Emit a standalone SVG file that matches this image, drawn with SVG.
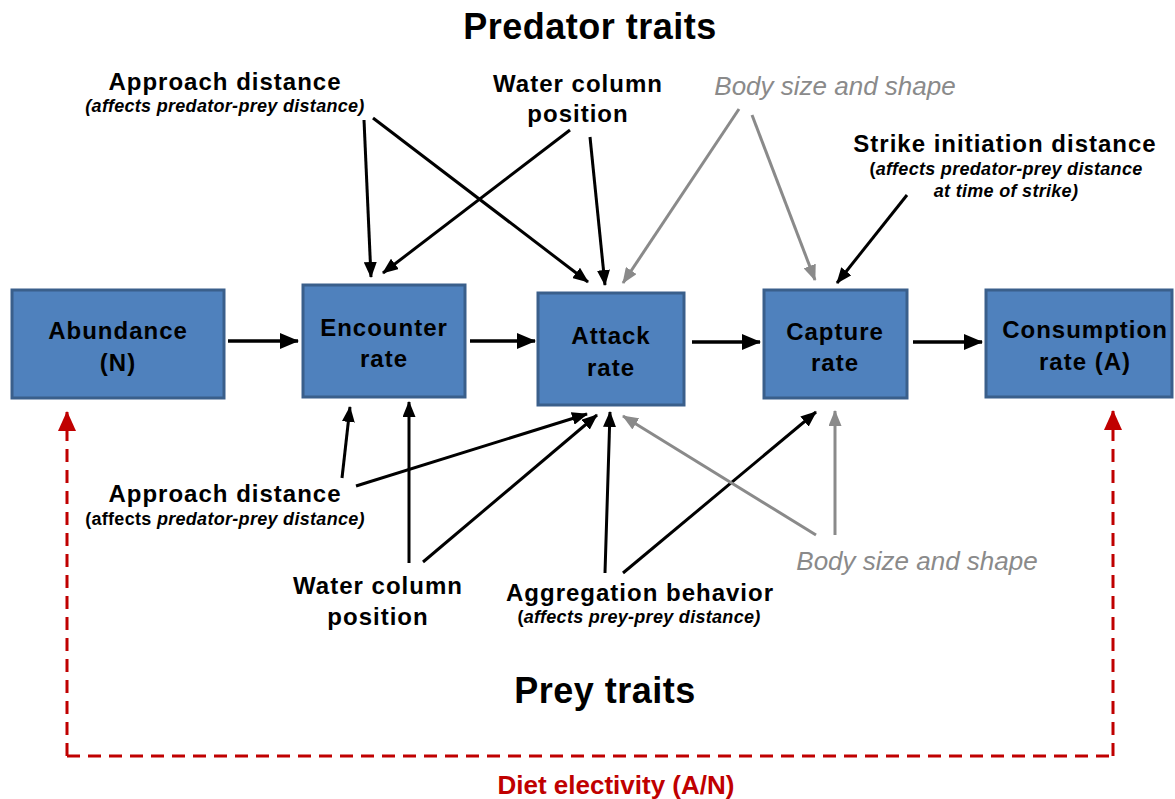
<svg xmlns="http://www.w3.org/2000/svg" width="1175" height="799" viewBox="0 0 1175 799">
<style>
text{font-family:"Liberation Sans",Arial,sans-serif;text-anchor:middle}
.box{fill:#4F81BD;stroke:#3A5F8B;stroke-width:3}
.bl{font-size:24px;font-weight:bold;fill:#000;letter-spacing:1px}
.lab{font-size:24px;font-weight:bold;fill:#000;letter-spacing:1px}
.sub{font-size:18px;font-weight:bold;font-style:italic;fill:#000;letter-spacing:0.3px}
.up{font-style:normal}
.gray{font-size:26px;font-style:italic;fill:#8A8A8A}
.title{font-size:36px;font-weight:bold;fill:#000;letter-spacing:0.5px}
.k{stroke:#000;stroke-width:3;fill:none;marker-end:url(#ak)}
.kb{stroke:#000;stroke-width:3.5;fill:none;marker-end:url(#akb)}
.g{stroke:#8A8A8A;stroke-width:3;fill:none;marker-end:url(#ag)}
.r{stroke:#C00000;stroke-width:3;fill:none;stroke-dasharray:13 8}
</style>
<defs>
<marker id="ak" markerUnits="userSpaceOnUse" markerWidth="16" markerHeight="13" refX="15" refY="6.5" orient="auto"><path d="M0,0 L16,6.5 L0,13 z" fill="#000"/></marker>
<marker id="akb" markerUnits="userSpaceOnUse" markerWidth="19" markerHeight="16" refX="18" refY="8" orient="auto"><path d="M0,0 L19,8 L0,16 z" fill="#000"/></marker>
<marker id="ag" markerUnits="userSpaceOnUse" markerWidth="16" markerHeight="13" refX="15" refY="6.5" orient="auto"><path d="M0,0 L16,6.5 L0,13 z" fill="#8A8A8A"/></marker>
<marker id="ar" markerUnits="userSpaceOnUse" markerWidth="20" markerHeight="18" refX="19" refY="9" orient="auto"><path d="M0,0 L20,9 L0,18 z" fill="#C00000"/></marker>
</defs>

<text class="title" x="590" y="39">Predator traits</text>
<text class="title" x="605" y="703">Prey traits</text>
<text x="616" y="794" style="font-size:26px;font-weight:bold;fill:#C00000">Diet electivity (A/N)</text>

<g id="abundance"><rect class="box" x="12" y="290" width="212" height="108"/><text class="bl" x="118" y="339">Abundance</text><text class="bl" x="118" y="371">(N)</text></g>
<g id="encounter"><rect class="box" x="303" y="285" width="162" height="112"/><text class="bl" x="384" y="336">Encounter</text><text class="bl" x="384" y="367">rate</text></g>
<g id="attack"><rect class="box" x="538" y="293" width="146" height="112"/><text class="bl" x="611" y="344">Attack</text><text class="bl" x="611" y="376">rate</text></g>
<g id="capture"><rect class="box" x="764" y="290" width="143" height="108"/><text class="bl" x="835" y="340">Capture</text><text class="bl" x="835" y="371">rate</text></g>
<g id="consumption"><rect class="box" x="986" y="290" width="186" height="107"/><text class="bl" x="1085" y="338">Consumption</text><text class="bl" x="1085" y="370">rate (A)</text></g>

<g id="pred-approach"><text class="lab" x="225" y="90">Approach distance</text><text class="sub" x="225" y="112">(affects predator-prey distance)</text></g>
<g id="pred-water"><text class="lab" x="578" y="92">Water column</text><text class="lab" x="578" y="122">position</text></g>
<g id="pred-body"><text class="gray" x="835" y="95">Body size and shape</text></g>
<g id="pred-strike"><text class="lab" x="1005" y="152">Strike initiation distance</text><text class="sub" x="1006" y="175"><tspan class="up">(</tspan>affects predator-prey distance</text><text class="sub" x="1006" y="197">at time of strike)</text></g>

<g id="prey-approach"><text class="lab" x="225" y="502">Approach distance</text><text class="sub" x="225" y="525"><tspan class="up">(affects </tspan>predator-prey distance)</text></g>
<g id="prey-water"><text class="lab" x="378" y="594">Water column</text><text class="lab" x="378" y="625">position</text></g>
<g id="prey-aggregation"><text class="lab" x="640" y="601">Aggregation behavior</text><text class="sub" x="639" y="623"><tspan class="up">(</tspan>affects prey-prey distance)</text></g>
<g id="prey-body"><text class="gray" x="917" y="570">Body size and shape</text></g>

<g id="connectors">
<line class="kb" x1="228" y1="341" x2="298" y2="341"/>
<line class="kb" x1="470" y1="341" x2="535" y2="341"/>
<line class="kb" x1="692" y1="342" x2="760" y2="342"/>
<line class="kb" x1="913" y1="342" x2="982" y2="342"/>

<line class="k" x1="364" y1="120" x2="371" y2="277"/>
<line class="k" x1="373" y1="118" x2="588" y2="282"/>
<line class="k" x1="570" y1="130" x2="383" y2="273"/>
<line class="k" x1="590" y1="137" x2="605" y2="285"/>
<line class="g" x1="739" y1="109" x2="623" y2="283"/>
<line class="g" x1="752" y1="115" x2="815" y2="280"/>
<line class="k" x1="907" y1="195" x2="837" y2="283"/>

<line class="k" x1="342" y1="478" x2="350" y2="407"/>
<line class="k" x1="356" y1="486" x2="587" y2="414"/>
<line class="k" x1="409" y1="563" x2="409" y2="402"/>
<line class="k" x1="423" y1="562" x2="597" y2="415"/>
<line class="k" x1="605" y1="573" x2="610" y2="412"/>
<line class="k" x1="623" y1="573" x2="816" y2="412"/>
<line class="g" x1="816" y1="535" x2="623" y2="416"/>
<line class="g" x1="835" y1="535" x2="835" y2="411"/>

<path class="r" d="M67,756 L1113,756"/>
<path class="r" d="M67,756 L67,412" marker-end="url(#ar)"/>
<path class="r" d="M1113,756 L1113,411" marker-end="url(#ar)"/>
</g>
</svg>
